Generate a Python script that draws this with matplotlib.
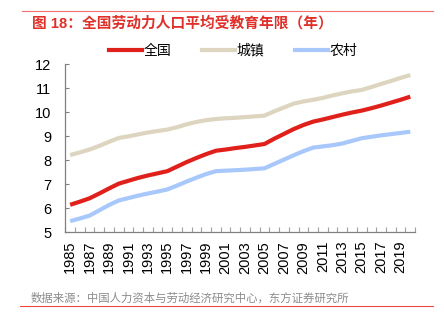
import matplotlib
matplotlib.use("Agg")
import matplotlib.pyplot as plt
from matplotlib.lines import Line2D
import numpy as np

plt.rcParams['font.family'] = ['Liberation Sans', 'Noto Sans CJK SC', 'DejaVu Sans']

years = list(range(1985, 2021))
national = [6.15, 6.28, 6.42, 6.62, 6.83, 7.03, 7.15, 7.27, 7.37, 7.46,
            7.55, 7.74, 7.93, 8.10, 8.26, 8.40, 8.45, 8.51, 8.56, 8.62,
            8.68, 8.90, 9.10, 9.30, 9.47, 9.61, 9.70, 9.80, 9.90, 9.99,
            10.07, 10.17, 10.28, 10.40, 10.52, 10.65]
urban = [8.22, 8.33, 8.45, 8.60, 8.77, 8.93, 9.00, 9.08, 9.16, 9.22,
         9.28, 9.38, 9.50, 9.60, 9.67, 9.72, 9.75, 9.77, 9.80, 9.83,
         9.86, 10.04, 10.20, 10.36, 10.45, 10.52, 10.60, 10.70, 10.79, 10.87,
         10.93, 11.05, 11.18, 11.30, 11.43, 11.55]
rural = [5.47, 5.58, 5.70, 5.92, 6.14, 6.33, 6.43, 6.53, 6.62, 6.70,
         6.79, 6.95, 7.12, 7.28, 7.43, 7.55, 7.57, 7.59, 7.61, 7.64,
         7.67, 7.85, 8.03, 8.21, 8.38, 8.53, 8.58, 8.63, 8.70, 8.81,
         8.92, 8.98, 9.04, 9.09, 9.14, 9.19]
series_names = ['全国', '城镇', '农村']
series_colors = ['#e0201b', '#ddd5c0', '#a8c8fb']
title = '图 18：全国劳动力人口平均受教育年限（年）'
source = '数据来源：中国人力资本与劳动经济研究中心，东方证券研究所'

fig = plt.figure(figsize=(4.44, 3.26), dpi=100)
ax = fig.add_axes([0.147, 0.287, 0.788, 0.516])

x = np.arange(len(years))
# urban first so the national line sits on top
for vals, col in [(urban, series_colors[1]), (rural, series_colors[2]), (national, series_colors[0])]:
    ax.plot(x, vals, color=col, lw=3.0, solid_joinstyle='round', solid_capstyle='butt')

ax.set_xlim(-0.5, len(years) - 0.5)
ax.set_ylim(5, 12)
ax.set_yticks(range(5, 13))
ax.tick_params(axis='y', direction='in', length=3, width=0.8, color='#808080',
               labelsize=10.5, pad=10)

# category boundaries carry the tick marks, labels sit at every other year
ax.set_xticks(np.arange(-0.5, len(years) + 0.5, 1.0))
ax.set_xticklabels([])
ax.set_xticks(x[::2], minor=True)
ax.set_xticklabels([str(y) for y in years[::2]], minor=True, rotation=90)
ax.tick_params(axis='x', which='major', direction='in', length=3.5, width=0.8, color='#a0a0a0')
ax.tick_params(axis='x', which='minor', length=0, labelsize=10.5, pad=6)

for s in ['top', 'right']:
    ax.spines[s].set_visible(False)
for s in ['left', 'bottom']:
    ax.spines[s].set_color('#808080')
    ax.spines[s].set_linewidth(0.9)

handles = [Line2D([0], [0], color=c, lw=3.0) for c in series_colors]
fig.legend(handles, series_names, loc='center', bbox_to_anchor=(0.525, 0.845), ncol=3,
           frameon=False, fontsize=10, handlelength=2.4, handletextpad=0.1,
           columnspacing=2.2)

fig.add_artist(Line2D([0.05, 0.975], [1 - 10.5 / 326] * 2, color='#f07070', lw=0.8))
fig.add_artist(Line2D([0.045, 0.975], [1 - 306 / 326] * 2, color='#f04a40', lw=0.8))
fig.text(0.071, 1 - 23 / 326, title, color='#e0302a', fontsize=10.6, fontweight='bold',
         va='center', ha='left')
fig.text(0.07, 1 - 298 / 326, source, color='#8c8c8c', fontsize=8.2, va='center', ha='left')

fig.savefig('out.png', dpi=100)
